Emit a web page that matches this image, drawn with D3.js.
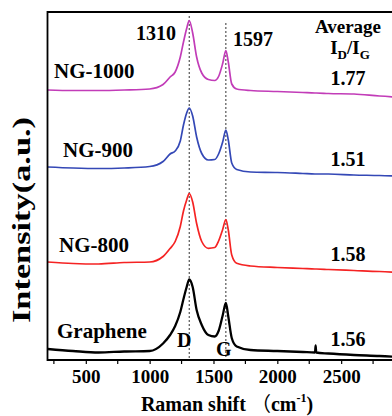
<!DOCTYPE html>
<html>
<head>
<meta charset="utf-8">
<script src="https://cdn.jsdelivr.net/npm/d3@7/dist/d3.min.js"></script>
<style>
  html, body { margin: 0; padding: 0; background: #fff; }
  svg { display: block; }
  text { font-family: "Liberation Serif", "Times New Roman", serif; font-weight: bold; fill: #000; }
</style>
</head>
<body>
<svg id="chart" width="392" height="416"></svg>
<script>
// Raman shift sample positions (cm^-1), shared by every spectrum
const shifts = [200, 400, 600, 800, 1000, 1105, 1160, 1200, 1240, 1265, 1290, 1310, 1337, 1368,
  1408, 1460, 1510, 1540, 1572, 1597, 1616, 1643, 1682, 1790, 2000, 2200, 2295, 2300, 2305,
  2400, 2600, 2800, 3000];

// Stacked intensities (a.u.), one array per sample
const graphene = [11, 9, 7.5, 8.5, 9, 16.5, 25, 34, 48, 61, 73, 80.5, 73, 50,
  35, 25, 23.5, 29, 44.5, 57, 43.5, 22, 13.5, 10, 9, 8, 7.5, 14.5, 7.5,
  6.5, 5, 4, 2.5];
const ng800 = [98, 96.5, 96, 97.5, 98, 103.5, 111.5, 118.5, 133.5, 149, 160, 166.5, 158, 136.5,
  118.5, 111.7, 112.5, 119, 130.5, 140.5, 130, 105, 96.7, 94, 92.5, 91.5, 91, 91, 91,
  90.5, 89.5, 88.5, 87];
const ng900 = [193, 192, 191.5, 192, 193.5, 198.5, 206, 209, 219, 235, 247, 252, 244, 223,
  206.5, 200, 200.5, 206, 218, 230, 220, 197, 190.5, 188, 187.5, 186.5, 186, 186, 186,
  186, 185, 184.5, 183.5];
const ng1000 = [270, 269.5, 269.5, 270, 271, 275.5, 283, 288, 303, 318, 331.5, 339.5, 327, 303,
  287, 280.5, 279.5, 283.5, 296.5, 309.5, 298, 276, 271, 269.5, 268.5, 267.5, 267, 267, 267,
  266.5, 266, 264, 262.5];

const seriesNames = ["Graphene", "NG-800", "NG-900", "NG-1000"];
const seriesValues = [graphene, ng800, ng900, ng1000];
const ratios = ["1.56", "1.58", "1.51", "1.77"];
const colors = ["#000000", "#f52323", "#3448b6", "#c23cb8"];

// D and G band positions
const bandShifts = [1310, 1597];
const bandLetters = ["D", "G"];

const xTicks = [500, 1000, 1500, 2000, 2500];
const xMinorTicks = [250, 750, 1250, 1750, 2250, 2750];

const svg = d3.select("#chart");
const plotLeft = 47.5, plotTop = 12, plotBottom = 360, plotRight = 405;

const x = d3.scaleLinear().domain([200, 3000]).range([plotLeft, plotRight]);
const y = d3.scaleLinear().domain([0, 348]).range([plotBottom, plotTop]);

svg.append("defs").append("clipPath").attr("id", "plot")
  .append("rect").attr("x", plotLeft).attr("y", plotTop)
  .attr("width", plotRight - plotLeft).attr("height", plotBottom - plotTop);

// dotted band guides
const guideTop = [344, 337];
svg.append("g").selectAll("line").data(bandShifts).join("line")
  .attr("x1", d => x(d)).attr("x2", d => x(d))
  .attr("y1", (d, i) => y(guideTop[i])).attr("y2", plotBottom)
  .attr("stroke", "#333").attr("stroke-width", 1).attr("stroke-dasharray", "2,2");

// spectra
const line = d3.line().x((d, i) => x(shifts[i])).y(d => y(d)).curve(d3.curveMonotoneX);
svg.append("g").attr("clip-path", "url(#plot)")
  .selectAll("path").data(seriesValues).join("path")
  .attr("d", d => line(d))
  .attr("fill", "none")
  .attr("stroke", (d, i) => colors[i])
  .attr("stroke-width", (d, i) => i === 0 ? 2.3 : 1.7)
  .attr("stroke-linejoin", "round");

// axes
const xAxis = d3.axisBottom(x).tickValues(xTicks).tickSize(4).tickPadding(6).tickFormat(d3.format("d"));
const gx = svg.append("g").attr("transform", `translate(0,${plotBottom})`).call(xAxis);
gx.select(".domain").remove();
gx.selectAll(".tick line").attr("stroke", "#000").attr("stroke-width", 1.2);
gx.selectAll(".tick text").attr("font-size", 19).attr("font-family", "Liberation Serif")
  .attr("font-weight", "bold").attr("dy", "0.71em");
svg.append("g").selectAll("line").data(xMinorTicks).join("line")
  .attr("x1", d => x(d)).attr("x2", d => x(d)).attr("y1", plotBottom).attr("y2", plotBottom + 4)
  .attr("stroke", "#000").attr("stroke-width", 1.2);

// frame: left, top, bottom
svg.append("path")
  .attr("d", `M392,${plotTop}H${plotLeft}V${plotBottom}H392`)
  .attr("fill", "none").attr("stroke", "#000").attr("stroke-width", 1.8);

// peak position labels
svg.append("text").attr("x", 176).attr("y", 40).attr("text-anchor", "end").attr("font-size", 20).text(bandShifts[0]);
svg.append("text").attr("x", 233).attr("y", 46).attr("font-size", 20).text(bandShifts[1]);

// band letters on the graphene spectrum
svg.append("text").attr("x", 177).attr("y", 347).attr("font-size", 20).text(bandLetters[0]);
svg.append("text").attr("x", 216).attr("y", 356).attr("font-size", 20).text(bandLetters[1]);

// sample names
const namePos = [[57, 338], [59, 252], [63, 157], [54, 78]];
svg.append("g").selectAll("text").data(seriesNames).join("text")
  .attr("x", (d, i) => namePos[i][0]).attr("y", (d, i) => namePos[i][1])
  .attr("font-size", 21).text(d => d);

// intensity ratios
const ratioY = [346, 261, 166, 85];
svg.append("g").selectAll("text").data(ratios).join("text")
  .attr("x", 348).attr("y", (d, i) => ratioY[i]).attr("text-anchor", "middle")
  .attr("font-size", 20).text(d => d);

// ratio header
svg.append("text").attr("x", 348).attr("y", 33).attr("text-anchor", "middle").attr("font-size", 19).text("Average");
const hdr = svg.append("text").attr("x", 350).attr("y", 54).attr("text-anchor", "middle").attr("font-size", 19);
hdr.append("tspan").text("I");
hdr.append("tspan").attr("font-size", 13).attr("dy", 5).text("D");
hdr.append("tspan").attr("dy", -5).text("/I");
hdr.append("tspan").attr("font-size", 13).attr("dy", 5).text("G");

// axis titles
const xt = svg.append("text").attr("x", 227).attr("y", 411).attr("text-anchor", "middle").attr("font-size", 20);
xt.append("tspan").text("Raman shift ");
xt.append("tspan").attr("font-family", "Noto Sans CJK SC").attr("font-weight", "normal").text("（");
xt.append("tspan").text("cm");
xt.append("tspan").attr("font-size", 12).attr("dy", -9).text("-1");
xt.append("tspan").attr("dy", 9).text(")");

svg.append("text")
  .attr("transform", "translate(30,220) rotate(-90)")
  .attr("text-anchor", "middle").attr("font-size", 26)
  .attr("textLength", 206).attr("lengthAdjust", "spacingAndGlyphs")
  .text("Intensity(a.u.)");
</script>
</body>
</html>
